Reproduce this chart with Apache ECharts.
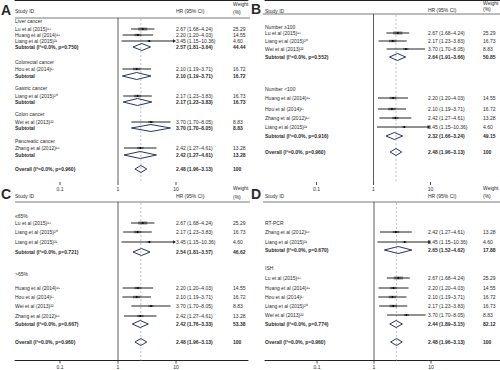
<!DOCTYPE html>
<html><head><meta charset="utf-8">
<script src="https://cdn.jsdelivr.net/npm/echarts@6/dist/echarts.min.js"></script>
<style>html,body{margin:0;padding:0;background:#fff}#c{width:500px;height:370px}</style>
</head><body><div id="c"></div>
<script>
// ---------------- DATA ----------------
const xTickValues = [0.1, 1, 10];
const xTickLabels = ['0.1', '1', '10'];
const headerStudy = 'Study ID';
const headerHR = 'HR (95% CI)';
const headerWeight = ['Weight', '(%)'];
const panelLetters = ['A', 'B', 'C', 'D'];

// Panel A – cancer type
const A_labels = ['Liver cancer', 'Lu et al (2015)¹⁸', 'Huang et al (2014)¹⁹', 'Liang et al (2015)²¹', 'Subtotal (I²=0.0%, p=0.750)',
  'Colorectal cancer', 'Hou et al (2014)¹⁷', 'Subtotal',
  'Gastric cancer', 'Liang et al (2015)²⁰', 'Subtotal',
  'Colon cancer', 'Wei et al (2013)²²', 'Subtotal',
  'Pancreatic cancer', 'Zhang et al (2012)¹⁶', 'Subtotal',
  'Overall (I²=0.0%, p=0.960)'];
const A_hr = [null, 2.67, 2.20, 3.45, 2.57, null, 2.10, 2.10, null, 2.17, 2.17, null, 3.70, 3.70, null, 2.42, 2.42, 2.48];
const A_lo = [null, 1.68, 1.20, 1.15, 1.81, null, 1.19, 1.19, null, 1.23, 1.23, null, 1.70, 1.70, null, 1.27, 1.27, 1.96];
const A_hi = [null, 4.24, 4.03, 10.36, 3.64, null, 3.71, 3.71, null, 3.83, 3.83, null, 8.05, 8.05, null, 4.61, 4.61, 3.13];
const A_wt = [null, 25.29, 14.55, 4.60, 44.44, null, 16.72, 16.72, null, 16.73, 16.73, null, 8.83, 8.83, null, 13.28, 13.28, 100];

// Panel B – sample size
const B_labels = ['Number ≥100', 'Lu et al (2015)¹⁸', 'Liang et al (2015)²⁰', 'Wei et al (2013)²²', 'Subtotal (I²=0.0%, p=0.552)',
  'Number <100', 'Huang et al (2014)¹⁹', 'Hou et al (2014)¹⁷', 'Zhang et al (2012)¹⁶', 'Liang et al (2015)²¹', 'Subtotal (I²=0.0%, p=0.916)',
  'Overall (I²=0.0%, p=0.960)'];
const B_hr = [null, 2.67, 2.17, 3.70, 2.64, null, 2.20, 2.10, 2.42, 3.45, 2.32, 2.48];
const B_lo = [null, 1.68, 1.23, 1.70, 1.91, null, 1.20, 1.19, 1.27, 1.15, 1.66, 1.96];
const B_hi = [null, 4.24, 3.83, 8.05, 3.66, null, 4.03, 3.71, 4.61, 10.36, 3.24, 3.13];
const B_wt = [null, 25.29, 16.73, 8.83, 50.85, null, 14.55, 16.72, 13.28, 4.60, 49.15, 100];

// Panel C – cut-off
const C_labels = ['≤65%', 'Lu et al (2015)¹⁸', 'Liang et al (2015)²⁰', 'Liang et al (2015)²¹', 'Subtotal (I²=0.0%, p=0.721)',
  '>65%', 'Huang et al (2014)¹⁹', 'Hou et al (2014)¹⁷', 'Wei et al (2013)²²', 'Zhang et al (2012)¹⁶', 'Subtotal (I²=0.0%, p=0.667)',
  'Overall (I²=0.0%, p=0.960)'];
const C_hr = [null, 2.67, 2.17, 3.45, 2.54, null, 2.20, 2.10, 3.70, 2.42, 2.42, 2.48];
const C_lo = [null, 1.68, 1.23, 1.15, 1.81, null, 1.20, 1.19, 1.70, 1.27, 1.76, 1.96];
const C_hi = [null, 4.24, 3.83, 10.36, 3.57, null, 4.03, 3.71, 8.05, 4.61, 3.33, 3.13];
const C_wt = [null, 25.29, 16.73, 4.60, 46.62, null, 14.55, 16.72, 8.83, 13.28, 53.38, 100];

// Panel D – detection method
const D_labels = ['RT-PCR', 'Zhang et al (2012)¹⁶', 'Liang et al (2015)²¹', 'Subtotal (I²=0.0%, p=0.670)',
  'ISH', 'Lu et al (2015)¹⁸', 'Huang et al (2014)¹⁹', 'Hou et al (2014)¹⁷', 'Liang et al (2015)²⁰', 'Wei et al (2013)²²', 'Subtotal (I²=0.0%, p=0.774)',
  'Overall (I²=0.0%, p=0.960)'];
const D_hr = [null, 2.42, 3.45, 2.65, null, 2.67, 2.20, 2.10, 2.17, 3.70, 2.44, 2.48];
const D_lo = [null, 1.27, 1.15, 1.52, null, 1.68, 1.20, 1.19, 1.23, 1.70, 1.89, 1.96];
const D_hi = [null, 4.61, 10.36, 4.62, null, 4.24, 4.03, 3.71, 3.83, 8.05, 3.15, 3.13];
const D_wt = [null, 13.28, 4.60, 17.88, null, 25.29, 14.55, 16.72, 16.73, 8.83, 82.12, 100];

// ---------------- LAYOUT ----------------
const layouts = [
  { left: 15, right: 248, top: 0, axisY: 182, xOne: 118, decade: 58, nameX: 15, hrX: 176, wtX: 233,
    letter: [1, 10], studyY: 11, hrY: 11, wtY: [4, 12], hdrLine: [15, 250, 18],
    rowY: [21, 29, 35, 41, 47, 62, 69, 76, 88, 96, 102, 114, 122, 128, 141, 148, 155, 169] },
  { left: 265, right: 500, top: 0, axisY: 182, xOne: 373.5, decade: 57, nameX: 265, hrX: 428, wtX: 483,
    letter: [251, 9], studyY: 11, hrY: 10, wtY: [3, 9], hdrLine: [263, 500, 14],
    rowY: [27, 33, 41, 49, 57, 89, 98, 109, 118, 127, 136, 152] },
  { left: 15, right: 248, top: 185, axisY: 360.5, xOne: 118, decade: 58, nameX: 15, hrX: 176, wtX: 233,
    letter: [1, 194], studyY: 196, hrY: 196, wtY: [188, 197], hdrLine: [15, 250, 202],
    rowY: [216, 223, 232, 242, 252, 274, 288, 297, 306, 316, 324, 342] },
  { left: 265, right: 500, top: 185, axisY: 360.5, xOne: 374, decade: 57, nameX: 265, hrX: 428, wtX: 483,
    letter: [251, 194], studyY: 196, hrY: 196, wtY: [188, 196], hdrLine: [263, 500, 202],
    rowY: [223, 232, 242, 250, 268, 278, 288, 297, 306, 315, 324, 342] }
];
const panels = [
  { labels: A_labels, hr: A_hr, lo: A_lo, hi: A_hi, wt: A_wt },
  { labels: B_labels, hr: B_hr, lo: B_lo, hi: B_hi, wt: B_wt },
  { labels: C_labels, hr: C_hr, lo: C_lo, hi: C_hi, wt: C_wt },
  { labels: D_labels, hr: D_hr, lo: D_lo, hi: D_hi, wt: D_wt }
];
const ciClipMax = 10;
const FAM = '"Liberation Sans", Arial, Helvetica, sans-serif';
const TXT = '#2a2a2a';
const DIAMOND = '#27356b';
function font(size, bold) { return (bold ? 'bold ' : '') + size + 'px ' + FAM; }
function txt(text, x, y, size, bold, align) {
  return { type: 'text', silent: true, style: { text: text, x: x, y: y, font: font(size, bold), fill: TXT,
    align: align || 'left', verticalAlign: 'middle', textAlign: align || 'left', textVerticalAlign: 'middle' } };
}
function line(x1, y1, x2, y2, color, width, dash) {
  return { type: 'line', silent: true, shape: { x1: x1, y1: y1, x2: x2, y2: y2 },
    style: { stroke: color, lineWidth: width, lineDash: dash || null } };
}
function fmt(v) { return v.toFixed(2); }

const chart = echarts.init(document.getElementById('c'), null, { renderer: 'svg', width: 500, height: 370 });

const grids = [], xAxes = [], yAxes = [], series = [];
layouts.forEach(function (L, k) {
  const P = panels[k];
  const w = L.right - L.left, h = L.axisY - L.top;
  grids.push({ left: L.left, top: L.top, width: w, height: h });
  xAxes.push({ type: 'log', logBase: 10, gridIndex: k,
    min: Math.pow(10, (L.left - L.xOne) / L.decade), max: Math.pow(10, (L.right - L.xOne) / L.decade),
    axisLine: { show: true, lineStyle: { color: '#222', width: 1 } },
    axisTick: { show: false }, axisLabel: { show: false }, splitLine: { show: false } });
  yAxes.push({ type: 'value', gridIndex: k, min: L.top, max: L.axisY, inverse: true, show: false });

  const overallIdx = P.hr.length - 1;
  // frame: headers, reference lines, ticks
  series.push({ type: 'custom', xAxisIndex: k, yAxisIndex: k, silent: true, clip: false, z: 1,
    data: [[P.hr[overallIdx], L.top]],
    renderItem: function (params, api) {
      const ch = [];
      ch.push(txt(panelLetters[k], L.letter[0], L.letter[1], 14, true));
      ch.push(txt(headerStudy, L.nameX, L.studyY, 5, false));
      ch.push(txt(headerHR, L.hrX, L.hrY, 5, false));
      ch.push(txt(headerWeight[0], L.wtX, L.wtY[0], 5, false));
      ch.push(txt(headerWeight[1], L.wtX, L.wtY[1], 5, false));
      ch.push(line(L.hdrLine[0], L.hdrLine[2], L.hdrLine[1], L.hdrLine[2], '#555', 0.8));
      const x1 = api.coord([1, L.top])[0];
      const xo = api.coord([api.value(0), L.top])[0];
      ch.push(line(xo, L.hdrLine[2] + 1, xo, L.axisY, '#b0b0b0', 0.8, [2, 2]));
      ch.push(line(x1, L.hdrLine[2], x1, L.axisY, '#333', 0.8));
      xTickValues.forEach(function (v, j) {
        const tx = api.coord([v, L.axisY])[0];
        ch.push(line(tx, L.axisY, tx, L.axisY + 3, '#222', 0.8));
        ch.push(txt(xTickLabels[j], tx, L.axisY + 6.5, 5, false, 'center'));
      });
      return { type: 'group', children: ch };
    }
  });

  // rows
  series.push({ type: 'custom', xAxisIndex: k, yAxisIndex: k, silent: true, clip: false, z: 2,
    data: P.hr.map(function (v, i) { return [v == null ? 1 : v, L.rowY[i]]; }),
    renderItem: function (params, api) {
      const i = params.dataIndex;
      const label = P.labels[i];
      const y = api.coord([1, api.value(1)])[1];
      const isGroup = P.hr[i] == null;
      const isSum = !isGroup && (label.indexOf('Subtotal') === 0 || label.indexOf('Overall') === 0);
      const ch = [];
      ch.push(txt(label, L.nameX, y, 5, isSum));
      if (!isGroup) {
        const hr = P.hr[i], lo = P.lo[i], hi = P.hi[i], wt = P.wt[i];
        ch.push(txt(fmt(hr) + ' (' + fmt(lo) + '–' + fmt(hi) + ')', L.hrX, y, 5, isSum));
        ch.push(txt(wt === 100 ? '100' : fmt(wt), L.wtX, y, 5, isSum));
        const xc = api.coord([hr, 0])[0];
        const xl = api.coord([lo, 0])[0];
        if (isSum) {
          const xh = api.coord([hi, 0])[0];
          ch.push({ type: 'polygon', silent: true, shape: { points: [[xl, y], [xc, y - 3.5], [xh, y], [xc, y + 3.5]] },
            style: { fill: 'none', stroke: DIAMOND, lineWidth: 1 } });
        } else {
          const clipped = hi > ciClipMax;
          const xh = api.coord([clipped ? ciClipMax : hi, 0])[0];
          const bw = 1.8 * Math.sqrt(wt), bh = 0.6 * Math.sqrt(wt);
          ch.push({ type: 'rect', silent: true, shape: { x: xc - bw / 2, y: y - bh / 2, width: bw, height: bh },
            style: { fill: '#8a8a8a' } });
          ch.push(line(xl, y, clipped ? xh - 2.5 : xh, y, '#222', 1));
          if (clipped) {
            ch.push({ type: 'polygon', silent: true, shape: { points: [[xh, y], [xh - 3, y - 1.8], [xh - 3, y + 1.8]] },
              style: { fill: '#222' } });
          }
          ch.push({ type: 'circle', silent: true, shape: { cx: xc, cy: y, r: 0.9 }, style: { fill: '#000' } });
        }
      }
      return { type: 'group', children: ch };
    }
  });
});

chart.setOption({ animation: false, backgroundColor: '#fff', grid: grids, xAxis: xAxes, yAxis: yAxes, series: series });
</script></body></html>
